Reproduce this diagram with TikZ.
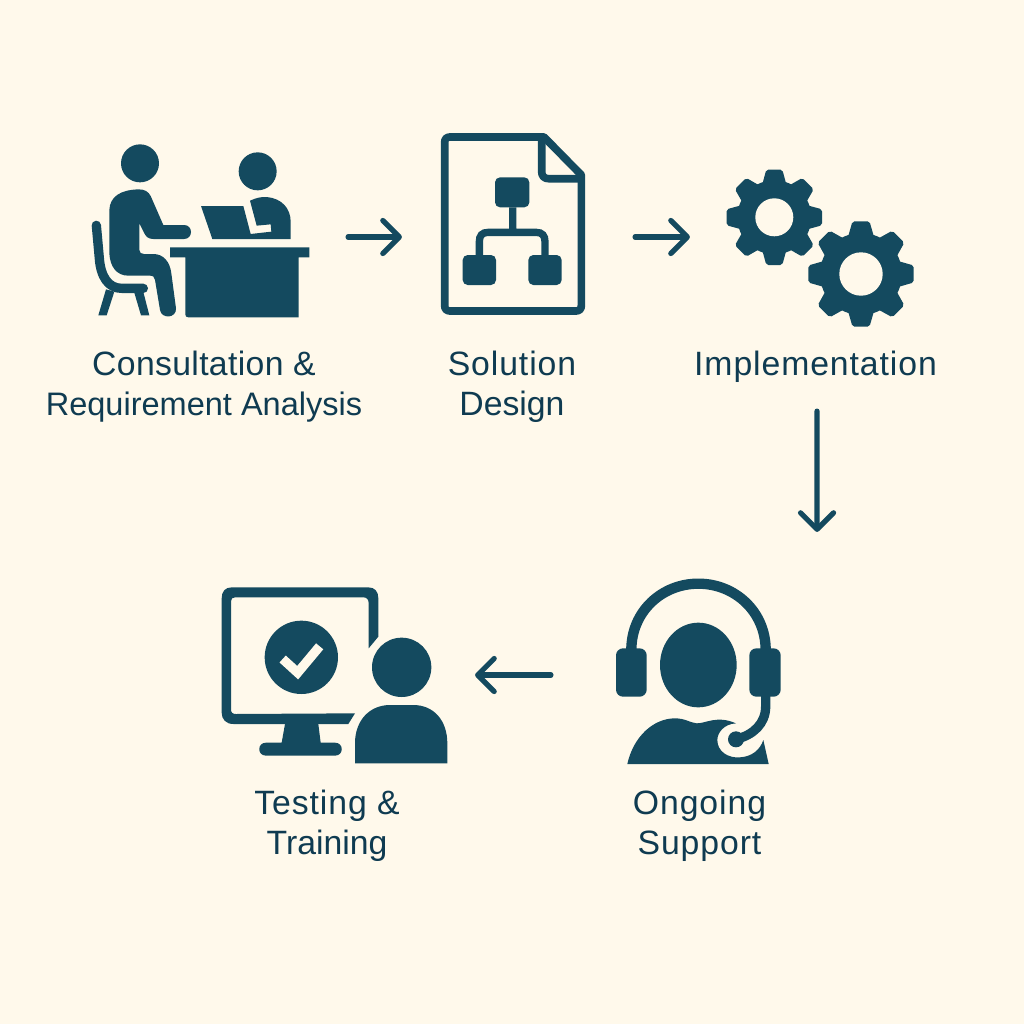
\documentclass[tikz,border=0pt]{standalone}
\usepackage{fontspec}
\setmainfont{Liberation Sans}
\newfontfamily\lsa[LetterSpace=1]{Liberation Sans}
\newfontfamily\lsb[LetterSpace=2.7]{Liberation Sans}
\usetikzlibrary{arrows.meta}
\definecolor{bgc}{HTML}{FFF9EB}
\definecolor{ink}{HTML}{144A5F}
\definecolor{txt}{HTML}{0F3B51}
\newcommand{\sizeb}{\fontsize{9.25}{11.4}\selectfont}
\tikzset{
  x=0.01cm,y=-0.01cm,
  iconbox/.style={draw=none,fill=none,inner sep=0pt,outer sep=0pt,rectangle},
  flow/.style={draw=ink,line width=5.2*0.2845pt,line cap=round,line join=round,
    -{Straight Barb[round,length=0.165cm,width=0.33cm]}},
  steplabel/.style={text=txt,align=center,font=\fontsize{9.6}{11.4}\selectfont,inner sep=0pt},
}
\newcommand{\geartooth}[4]{% root, outer, half base, half tip
  \fill[ink,rounded corners=0.02cm] (#1-4,-#3) -- (#2,-#4) -- (#2,#4) -- (#1-4,#3) -- cycle;}
\newcommand{\gearshape}[8]{% cx cy root outer hbase htip hole rotate
  \begin{scope}[shift={(#1,#2)}]
    \fill[ink] (0,0) circle[radius=#3];
    \foreach \a in {0,45,...,315}{
      \begin{scope}[rotate=\a+#8]\geartooth{#3}{#4}{#5}{#6}\end{scope}}
    \fill[bgc] (0,0) circle[radius=#7];
  \end{scope}}
\begin{document}
\begin{tikzpicture}
\useasboundingbox[fill=bgc] (0,0) rectangle (1024,1024);

% invisible extents of the five steps, used by the connectors
\node[iconbox,minimum width=2.56cm,minimum height=2.4cm] (consult) at (220,237) {};
\node[iconbox,minimum width=2.33cm,minimum height=2.4cm] (design) at (518.5,237) {};
\node[iconbox,minimum width=2.54cm,minimum height=3.48cm] (impl) at (817,237) {};
\node[iconbox,minimum width=2.66cm,minimum height=2.86cm] (support) at (684,675) {};
\node[iconbox,minimum width=2.6cm,minimum height=2.2cm] (testing) at (345,675) {};

% --- icon 1: consultation
\begin{scope}[shift={(80,130)},scale=1/3]
  \fill[ink] (180,100) circle[radius=57];
  \fill[ink] (533,124) circle[radius=57];
  \fill[ink] (88,240) .. controls (90,200) and (120,180) .. (175,178)
    .. controls (195,178) and (205,185) .. (212,198) -- (250,285) -- (312,285)
    .. controls (340,285) and (340,327) .. (312,327) -- (220,327)
    .. controls (205,327) and (198,320) .. (192,308) -- (178,280) -- (178,360)
    .. controls (178,368) and (184,372) .. (192,372) -- (220,372)
    .. controls (250,372) and (270,395) .. (274,430) -- (288,535)
    .. controls (290,565) and (245,568) .. (240,540) -- (225,450)
    .. controls (223,441) and (220,437) .. (210,437) -- (145,437)
    .. controls (110,437) and (90,410) .. (88,370) -- cycle;
  % chair
  \draw[ink,line width=28/3*0.2845pt,line cap=round,line join=round]
    (49,286) -- (58,385) .. controls (62,440) and (85,475) .. (125,475) -- (190,475);
  \fill[ink] (78,478) -- (55,556) -- (80,556) -- (103,485) -- cycle;
  \fill[ink] (162,485) -- (183,556) -- (208,556) -- (188,478) -- cycle;
  % desk
  \fill[ink] (270,352) -- (688,352) -- (688,382) -- (656,382) -- (656,562) -- (325,562)
    .. controls (319,562) and (316,559) .. (316,553) -- (316,382) -- (270,382) -- cycle;
  % consultant and laptop
  \fill[ink] (510,212) .. controls (530,203) and (545,200) .. (560,201)
    .. controls (605,205) and (632,235) .. (632,275) -- (632,327) -- (397,327)
    -- (363,228) -- (490,228) -- (512,312) -- (574,305) -- (572,283) -- (530,287) -- cycle;
\end{scope}

% --- icon 2: design document
\begin{scope}[shift={(430,125)},scale=1/3]
  \draw[ink,line width=23/3*0.2845pt,line join=round]
    (342,36) -- (60,36) .. controls (50,36) and (44,42) .. (44,52) -- (44,542)
    .. controls (44,552) and (50,558) .. (60,558) -- (438,558)
    .. controls (448,558) and (454,552) .. (454,542) -- (454,150) -- cycle;
  \draw[ink,line width=23/3*0.2845pt,line join=round]
    (335,40) -- (335,140) .. controls (335,153) and (343,161) .. (355,161) -- (454,161);
  \fill[ink,rounded corners=0.05cm] (195,157) rectangle (298,247);
  \fill[ink,rounded corners=0.05cm] (98,390) rectangle (198,480);
  \fill[ink,rounded corners=0.05cm] (295,390) rectangle (395,480);
  \draw[ink,line width=22/3*0.2845pt]
    (248,247) -- (248,322)
    (148,392) -- (148,350) .. controls (148,332) and (156,322) .. (175,322) -- (318,322)
    .. controls (337,322) and (345,332) .. (345,350) -- (345,392);
\end{scope}

% --- icon 3: gears
\gearshape{774.3}{217.3}{37}{47.7}{12}{8}{19}{0}
\gearshape{861}{274}{41}{52.7}{13}{8.5}{21.7}{0}

% --- icon 4: testing
\begin{scope}[shift={(210,580)},scale=1/3]
  \fill[ink] (35,55) .. controls (35,35) and (45,22) .. (65,22) -- (475,22)
    .. controls (495,22) and (505,35) .. (505,55) -- (505,170) -- (476,205) -- (476,70)
    .. controls (476,58) and (470,52) .. (460,52) -- (75,52)
    .. controls (67,52) and (63,56) .. (63,64) -- (63,388)
    .. controls (63,398) and (68,402) .. (78,402) -- (435,400) -- (415,432) -- (70,432)
    .. controls (48,432) and (35,418) .. (35,398) -- cycle;
  \fill[ink] (225,432) -- (325,432) -- (332,488) -- (375,488)
    .. controls (402,488) and (402,527) .. (375,527) -- (168,527)
    .. controls (141,527) and (141,488) .. (168,488) -- (215,488) -- cycle;
  \fill[ink] (274,232) circle[radius=110];
  \draw[bgc,line width=28/3*0.2845pt,line join=miter]
    (218,237) -- (263,278) -- (329,199);
  \fill[ink] (575,262) circle[radius=89];
  \fill[ink] (435,550) -- (435,490) .. controls (435,420) and (480,375) .. (540,375)
    -- (610,375) .. controls (670,375) and (712,420) .. (712,490) -- (712,550) -- cycle;
\end{scope}

% --- icon 5: support
\begin{scope}[shift={(600,570)},scale=1/3]
  \draw[ink,line width=31/3*0.2845pt] (94,240) .. controls (94,125) and (185,41) .. (295,41)
    .. controls (405,41) and (497,125) .. (497,240);
  \fill[ink,rounded corners=0.07cm] (48,235) -- (140,235) -- (140,380) -- (48,380) -- cycle;
  \fill[ink,rounded corners=0.07cm] (542,235) -- (448,235) -- (448,380) -- (542,380) -- cycle;
  \fill[ink] (295,285) ellipse[x radius=115,y radius=127];
  \draw[ink,line width=28/3*0.2845pt] (497,378) -- (497,410)
    .. controls (497,460) and (460,495) .. (410,507);
  \fill[ink] (408,508) circle[radius=24];
  \fill[ink] (82,582) .. controls (100,500) and (160,445) .. (225,445)
    .. controls (255,445) and (270,458) .. (290,460)
    .. controls (320,460) and (350,435) .. (408,460)
    .. controls (370,462) and (352,490) .. (352,510)
    .. controls (352,545) and (385,565) .. (420,562)
    .. controls (455,560) and (480,540) .. (490,510)
    -- (506,582) -- cycle;
\end{scope}

% --- labels
\node[steplabel] (lab1) at (204,387) {{\lsa Consultation \&}\\{\sizeb Requirement Analysis}};
\node[steplabel] (lab2) at (512,387) {{\lsb Solution}\\Design};
\node[steplabel] (lab3) at (815.5,367) {\lsb Implementation};
\node[steplabel] (lab4) at (327,826) {{\lsb Testing \&}\\Training};
\node[steplabel] (lab5) at (699.5,826) {{\lsb Ongoing}\\{\lsb Support}};

% --- connectors
\draw[flow] (consult.east) -- (design.west);
\draw[flow] (design.east) -- (impl.west);
\draw[flow] (impl.south) -- (support.north east);
\draw[flow] (support.west) -- (testing.east);
\end{tikzpicture}
\end{document}
